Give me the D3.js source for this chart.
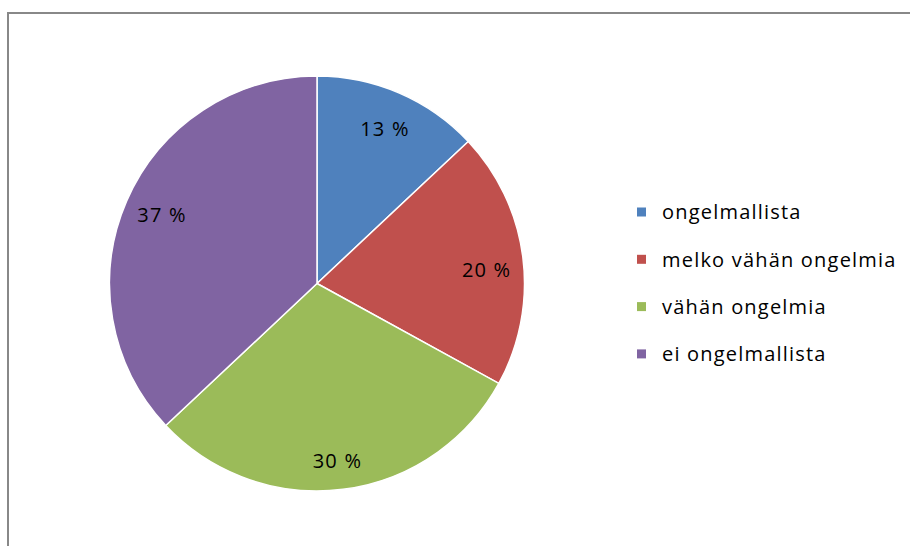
<!DOCTYPE html>
<html>
<head>
<meta charset="utf-8">
<script src="https://cdn.jsdelivr.net/npm/d3@7"></script>
<style>
  body { margin: 0; background: #fff; }
  text { font-family: "Open Sans", sans-serif; fill: #000; }
</style>
</head>
<body>
<svg width="910" height="546"></svg>
<script>
// data
var categories = ["ongelmallista", "melko vähän ongelmia", "vähän ongelmia", "ei ongelmallista"];
var values = [13, 20, 30, 37];
var colors = ["#4F81BD", "#C0504D", "#9BBB59", "#8064A2"];
// small nudges for the data labels (Excel's best-fit placement)
var labelNudge = [[0, 2], [0, 8], [-1, 8], [2, -1]];

var svg = d3.select('svg');

// chart frame (runs off the right and bottom edges)
svg.append('rect')
    .attr('x', 8).attr('y', 13)
    .attr('width', 940).attr('height', 560)
    .attr('fill', 'none')
    .attr('stroke', '#888')
    .attr('stroke-width', 2);

var cx = 317, cy = 283.5, radius = 207.5;

var pieG = svg.append('g')
    .attr('transform', 'translate(' + [cx, cy] + ')');

var pie = d3.pie().sort(null).value(function(d) { return d; });
var arc = d3.arc().innerRadius(0).outerRadius(radius);
var labelArc = d3.arc().innerRadius(171).outerRadius(171);

var arcs = pie(values);

pieG.selectAll('path')
    .data(arcs)
    .enter()
    .append('path')
    .attr('d', arc)
    .attr('fill', function(d, i) { return colors[i]; })
    .attr('stroke', '#fff')
    .attr('stroke-width', 1.5);

pieG.selectAll('text.lbl')
    .data(arcs)
    .enter()
    .append('text')
    .attr('class', 'lbl')
    .attr('transform', function(d, i) {
        var c = labelArc.centroid(d);
        return 'translate(' + [c[0] + labelNudge[i][0], c[1] + labelNudge[i][1]] + ')';
    })
    .attr('text-anchor', 'middle')
    .attr('dy', '0.36em')
    .style('font-size', '20px')
    .style('letter-spacing', '1.2px')
    .text(function(d) { return d.data + ' %'; });

// legend
var legendG = svg.append('g')
    .attr('transform', 'translate(637, 212)');

var rows = legendG.selectAll('g')
    .data(categories)
    .enter()
    .append('g')
    .attr('transform', function(d, i) { return 'translate(0,' + (i * 47.3) + ')'; });

rows.append('rect')
    .attr('x', 0).attr('y', -4.5)
    .attr('width', 9).attr('height', 9)
    .attr('fill', function(d, i) { return colors[i]; });

rows.append('text')
    .attr('x', 25)
    .attr('dy', '0.36em')
    .style('font-size', '20px')
    .style('letter-spacing', '1.2px')
    .text(function(d) { return d; });
</script>
</body>
</html>
